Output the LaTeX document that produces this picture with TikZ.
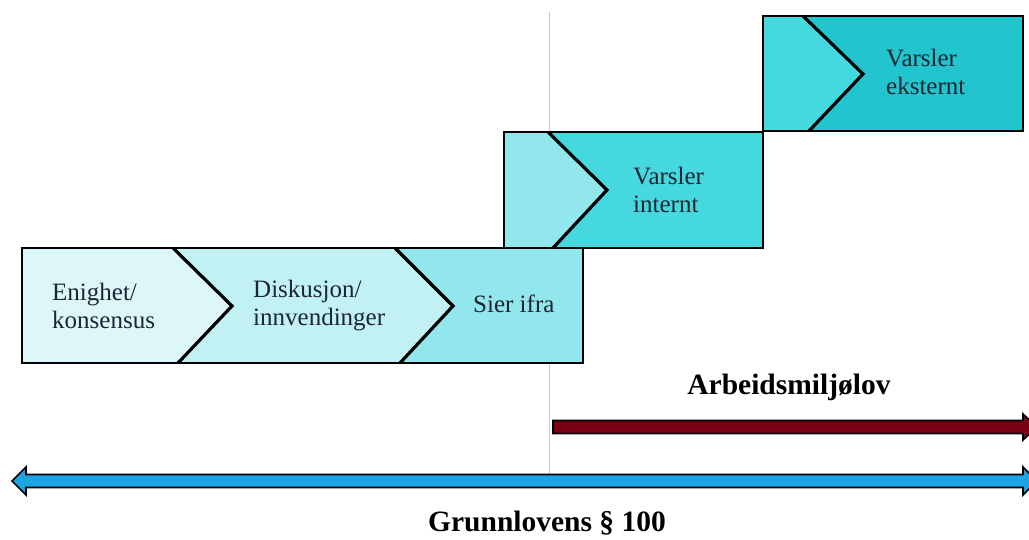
\documentclass[tikz,border=0pt]{standalone}
\usepackage{fontspec}
\setmainfont{Liberation Serif}
\definecolor{stepA}{HTML}{DDF6F8}
\definecolor{stepB}{HTML}{C2F1F3}
\definecolor{stepC}{HTML}{91E7EC}
\definecolor{stepD}{HTML}{45D8DF}
\definecolor{stepE}{HTML}{22C4CD}
\definecolor{lawred}{HTML}{7A0014}
\definecolor{lawblue}{HTML}{1EA4E2}
\definecolor{txt}{HTML}{1A2633}
\begin{document}
\begin{tikzpicture}[x=1pt,y=-1pt,
    lbl/.style={anchor=west,align=left,inner sep=0pt,font=\fontsize{25}{28}\selectfont,text=txt},
    law/.style={inner sep=0pt,font=\fontsize{29.5}{32}\selectfont\bfseries,text=black},
    edge/.style={line width=2.8pt,line join=miter},
    lawarrow/.style={draw=black,line width=1.6pt,line join=miter}]
    \clip (0,0) rectangle (1029,540);
    % thin guide line
    \draw[black!22,line width=1pt] (549,12) -- (549,474);
    % bottom row
    \fill[stepA] (22,248) -- (173,248) -- (232,306) -- (178,363) -- (22,363) -- cycle;
    \fill[stepB] (173,248) -- (395,248) -- (453,306) -- (400,363) -- (178,363) -- (232,306) -- cycle;
    \fill[stepC] (395,248) -- (583,248) -- (583,363) -- (400,363) -- (453,306) -- cycle;
    \draw[edge,line width=3.2pt] (173,248) -- (232,306) -- (178,363);
    \draw[edge,line width=3.2pt] (395,248) -- (453,306) -- (400,363);
    \draw[edge] (22,248) rectangle (583,363);
    % middle row
    \fill[stepC] (504,132) -- (548,132) -- (607,190) -- (553,248) -- (504,248) -- cycle;
    \fill[stepD] (548,132) -- (763,132) -- (763,248) -- (553,248) -- (607,190) -- cycle;
    \draw[edge,line width=3.2pt] (548,132) -- (607,190) -- (553,248);
    \draw[edge] (504,132) rectangle (763,248);
    % top row
    \fill[stepD] (763,16) -- (803,16) -- (863,74) -- (809,131) -- (763,131) -- cycle;
    \fill[stepE] (803,16) -- (1023,16) -- (1023,131) -- (809,131) -- (863,74) -- cycle;
    \draw[edge,line width=3.2pt] (803,16) -- (863,74) -- (809,131);
    \draw[edge] (763,16) rectangle (1023,131);
    % step labels
    \node[lbl] (enighet) at (52,306) {Enighet/\\konsensus};
    \node[lbl] (diskusjon) at (253,306) {Diskusjon/\\innvendinger};
    \node[lbl] (sier) at (473,304) {Sier ifra};
    \node[lbl] (internt) at (633,190) {Varsler\\internt};
    \node[lbl] (eksternt) at (886,72) {Varsler\\eksternt};
    % laws
    \fill[lawred,lawarrow] (553,420.5) -- (1023,420.5) -- (1023,414) -- (1037,427) -- (1023,440)
        -- (1023,433.5) -- (553,433.5) -- cycle;
    \fill[lawblue,lawarrow] (12,481) -- (26,467) -- (26,474.5) -- (1023,474.5) -- (1023,467) -- (1037,481)
        -- (1023,495) -- (1023,487.5) -- (26,487.5) -- (26,495) -- cycle;
    \node[law] (arbeid) at (789,387) {Arbeidsmiljølov};
    \node[law] (grunnlov) at (547,523) {Grunnlovens § 100};
\end{tikzpicture}
\end{document}
